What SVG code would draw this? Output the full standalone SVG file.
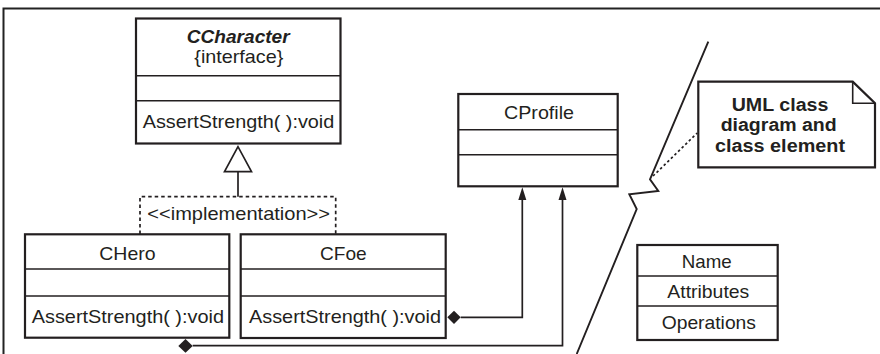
<svg xmlns="http://www.w3.org/2000/svg" width="880" height="354" viewBox="0 0 880 354">
<style>
.box{fill:#fff;stroke:#231f20;stroke-width:2.2}
.div{stroke:#231f20;stroke-width:1.6}
.t{font-family:"Liberation Sans",Arial,sans-serif;font-size:18.5px;fill:#231f20}
.b{font-weight:bold;font-size:18px}
.bi{font-weight:bold;font-style:italic}
.con{fill:none;stroke:#231f20;stroke-width:1.7}
.dash{fill:none;stroke:#231f20;stroke-width:1.7;stroke-dasharray:3.5,3}
.head{fill:#231f20;stroke:none}
</style>
<rect width="880" height="354" fill="#fff"/>
<path d="M3.5,354 V8.5 H880" fill="none" stroke="#222" stroke-width="2"/>

<g id="connectors">
  <line class="con" x1="238" y1="171.7" x2="238" y2="196.7"/>
  <polygon points="238,146.7 224.5,171.7 251.5,171.7" fill="#fff" stroke="#231f20" stroke-width="1.7"/>
  <path class="dash" d="M140,234 V196.7 H335.7 V234"/>
  <path class="con" d="M460.7,317.3 H522.3 V198"/>
  <polygon class="head" points="447.3,317.3 454,310.7 460.7,317.3 454,324"/>
  <polygon class="head" points="522.3,187.3 518.3,200 526.3,200"/>
  <path class="con" d="M192.7,345.7 H562.5 V198"/>
  <polygon class="head" points="178.3,345.9 185.5,339 192.7,345.9 185.5,352.8"/>
  <polygon class="head" points="562.5,187.3 558.5,200 566.5,200"/>
  <line x1="653" y1="176" x2="697.3" y2="133" stroke="#231f20" stroke-width="1.7" stroke-dasharray="2.5,2.5"/>
</g>

<g id="CCharacter">
  <rect class="box" x="136" y="18.5" width="204.5" height="125"/>
  <line class="div" x1="136" y1="75.7" x2="340.5" y2="75.7"/>
  <line class="div" x1="136" y1="100.7" x2="340.5" y2="100.7"/>
  <text class="t bi" x="186.7" y="43.3" textLength="103" lengthAdjust="spacingAndGlyphs">CCharacter</text>
  <text class="t" x="194.3" y="63.3" textLength="89" lengthAdjust="spacingAndGlyphs">{interface}</text>
  <text class="t" x="142.7" y="128" textLength="191.6" lengthAdjust="spacingAndGlyphs">AssertStrength( ):void</text>
</g>

<g id="implementation-label">
  <text class="t" x="147.3" y="220" textLength="182.7" lengthAdjust="spacingAndGlyphs">&lt;&lt;implementation&gt;&gt;</text>
</g>

<g id="CHero">
  <rect class="box" x="25" y="234.3" width="204.3" height="103.4"/>
  <line class="div" x1="25" y1="269" x2="229.3" y2="269"/>
  <line class="div" x1="25" y1="296" x2="229.3" y2="296"/>
  <text class="t" x="99.3" y="260" textLength="56.3" lengthAdjust="spacingAndGlyphs">CHero</text>
  <text class="t" x="31.7" y="323.3" textLength="192.3" lengthAdjust="spacingAndGlyphs">AssertStrength( ):void</text>
</g>

<g id="CFoe">
  <rect class="box" x="240.7" y="234.3" width="205" height="103.7"/>
  <line class="div" x1="240.7" y1="269" x2="445.7" y2="269"/>
  <line class="div" x1="240.7" y1="296" x2="445.7" y2="296"/>
  <text class="t" x="320" y="260" textLength="46.7" lengthAdjust="spacingAndGlyphs">CFoe</text>
  <text class="t" x="249" y="323.3" textLength="192" lengthAdjust="spacingAndGlyphs">AssertStrength( ):void</text>
</g>

<g id="CProfile">
  <rect class="box" x="458.3" y="94" width="159.4" height="92.3"/>
  <line class="div" x1="458.3" y1="129.7" x2="617.7" y2="129.7"/>
  <line class="div" x1="458.3" y1="154.7" x2="617.7" y2="154.7"/>
  <text class="t" x="504" y="118.7" textLength="70" lengthAdjust="spacingAndGlyphs">CProfile</text>
</g>

<g id="zigzag">
  <polyline points="708.3,41.7 650,179.3 658.3,191 629.3,194.3 636.7,209 576.7,354" fill="none" stroke="#231f20" stroke-width="1.9" stroke-linejoin="miter"/>
</g>

<g id="note">
  <path d="M698.3,81.7 H852.7 L875,103.3 V167.3 H698.3 Z" fill="#fff" stroke="#231f20" stroke-width="2.2"/>
  <path d="M852.7,81.7 V103.3 H875" fill="none" stroke="#231f20" stroke-width="1.6"/>
  <text class="t b" x="731.7" y="110.7" textLength="96.7" lengthAdjust="spacingAndGlyphs">UML class</text>
  <text class="t b" x="720.7" y="131" textLength="116" lengthAdjust="spacingAndGlyphs">diagram and</text>
  <text class="t b" x="715" y="151.7" textLength="130" lengthAdjust="spacingAndGlyphs">class element</text>
</g>

<g id="ClassElement">
  <rect class="box" x="637.3" y="245" width="140.4" height="95"/>
  <line class="div" x1="637.3" y1="276" x2="777.7" y2="276"/>
  <line class="div" x1="637.3" y1="306" x2="777.7" y2="306"/>
  <text class="t" x="681.7" y="268.3" textLength="50" lengthAdjust="spacingAndGlyphs">Name</text>
  <text class="t" x="667.3" y="298.3" textLength="82" lengthAdjust="spacingAndGlyphs">Attributes</text>
  <text class="t" x="661.7" y="329.3" textLength="94.3" lengthAdjust="spacingAndGlyphs">Operations</text>
</g>
</svg>
